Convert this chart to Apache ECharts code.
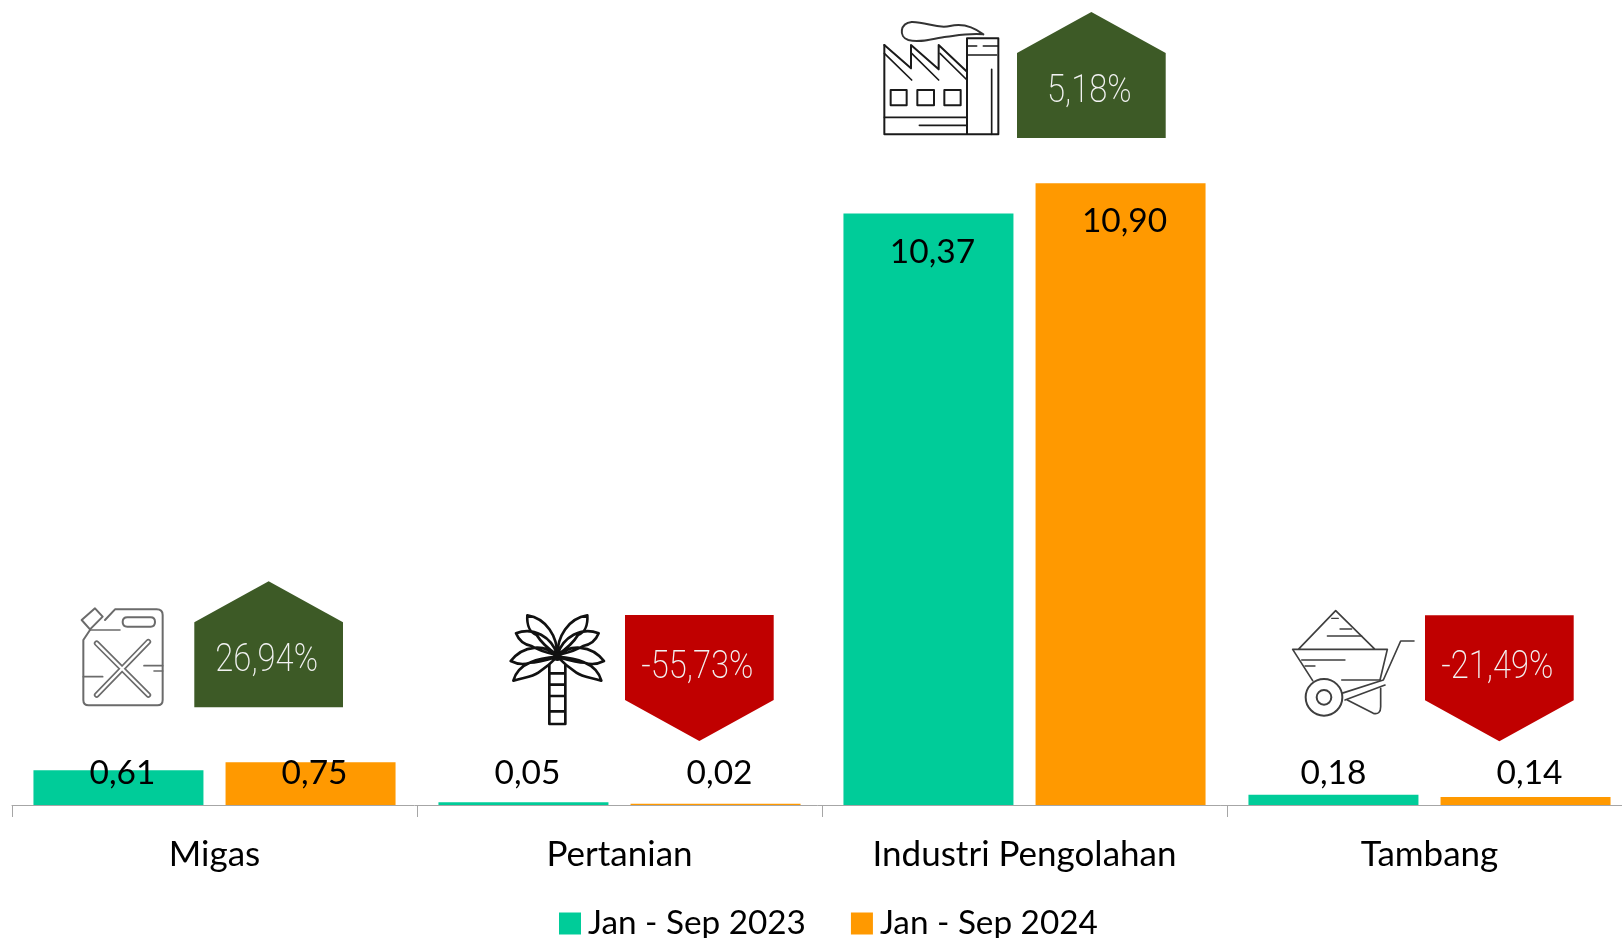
<!DOCTYPE html>
<html>
<head>
<meta charset="utf-8">
<style>
  html, body { margin: 0; padding: 0; background: #fff; overflow: hidden; }
  #main { width: 1622px; height: 938px; }
</style>
<script src="https://cdn.jsdelivr.net/npm/echarts@6/dist/echarts.min.js"></script>
</head>
<body>
<div id="main"></div>
<script>
var categories = ['Migas', 'Pertanian', 'Industri Pengolahan', 'Tambang'];
var seriesNames = ['Jan - Sep 2023', 'Jan - Sep 2024'];
var values2023 = [0.61, 0.05, 10.37, 0.18];
var values2024 = [0.75, 0.02, 10.90, 0.14];
var sectorChange = [26.94, -55.73, 5.18, -21.49];

// label nudges from the default spot above each bar, px
var labelNudge2023 = [[4, 23], [4, -9], [4, 59], [0, -2]];
var labelNudge2024 = [[4, 31], [4, -11], [4, 58], [4, -4]];

// badge placement, px
var badgeLeft = [194.3, 625, 1017, 1425];
var badgeTop = [581.3, 615, 12, 615.3];
var badgeW = 148.7, badgeH = 126, badgeTip = 41;

var TEAL = '#00CC99', ORANGE = '#FF9900', GREEN = '#3D5A26', RED = '#C00000';
var FONT = 'Lato, "Noto Sans", sans-serif';

function comma(v, d) { return v.toFixed(d).replace('.', ','); }

function barData(values, nudge) {
  return values.map(function (v, i) {
    return { value: v, label: { offset: nudge[i] } };
  });
}

function strokePath(d, color, lw, fill) {
  return { type: 'path', shape: { pathData: d },
    style: { stroke: color, lineWidth: lw, fill: fill || 'none', lineJoin: 'round', lineCap: 'round' } };
}

// icons are written in 3x pixels, then scaled down by the group
function iconGroup(x, y, children) {
  return { type: 'group', x: x, y: y, scaleX: 1 / 3, scaleY: 1 / 3, children: children };
}

function jerrycan() {
  var c = '#6b6b6b';
  return iconGroup(0, 560, [
    strokePath('M270 210 L250 240 V420 Q250 436 266 436 H472 Q488 436 488 420 V165 Q488 148 470 148 H345 L315 180', c, 6),
    strokePath('M245 180 L285 145 L308 170 L270 208 Z', c, 6),
    strokePath('M382 172 H452 Q465 172 465 186 Q465 200 452 200 H382 Q368 200 368 186 Q368 172 382 172 Z', c, 6),
    strokePath('M290 250 L445 405 M445 245 L290 405', c, 17),
    strokePath('M290 250 L445 405 M445 245 L290 405', '#ffffff', 7),
    strokePath('M250 350 H308 M432 317 H488 M462 333 H488 M270 210 H360', c, 5)
  ]);
}

function palm() {
  var c = '#111111';
  var leaves = 'M232 195 C232 140 200 85 142 76 C140 105 150 128 170 135 C185 160 210 180 232 195 Z' +
    'M232 195 C215 140 160 110 108 130 C118 155 135 165 155 168 C180 185 210 190 232 195 Z' +
    'M232 200 C195 160 130 165 92 213 C110 222 130 225 150 218 C175 218 205 208 232 200 Z' +
    'M232 200 C180 205 115 215 100 272 C130 262 155 262 175 248 C195 235 215 218 232 200 Z';
  return iconGroup(480, 590, [
    strokePath(leaves, c, 8),
    { type: 'group', x: 464, scaleX: -1, children: [strokePath(leaves, c, 8)] },
    { type: 'circle', shape: { cx: 232, cy: 200, r: 13 }, style: { fill: c } },
    strokePath('M208 225 V402 H256 V225 M208 250 H256 M208 284 H256 M208 318 H256 M208 364 H256', c, 8)
  ]);
}

function factory() {
  var c = '#1a1a1a';
  return iconGroup(840, 0, [
    strokePath('M430 103 C400 80 370 68 330 78 C290 88 260 65 215 66 C180 70 175 110 205 120 C240 130 280 115 320 110 C360 105 385 100 430 103', '#333333', 6),
    strokePath('M133 135 V403 H475 V115 H381 V403', c, 6),
    strokePath('M133 135 L213 205 V135 L296 208 V135 L381 215', c, 6),
    strokePath('M133 160 L215 240 M215 160 L296 240 M300 160 L381 240', c, 5),
    strokePath('M152 270 H200 V316 H152 Z M232 270 H282 V316 H232 Z M313 270 H362 V316 H313 Z', c, 6),
    strokePath('M133 352 H381 M238 376 H381 M381 138 H410 M430 138 H475 M381 165 H470 M455 208 V403', c, 5)
  ]);
}

function wheelbarrow() {
  var c = '#3f3f3f';
  var wheel = function (r) {
    return { type: 'circle', shape: { cx: 162, cy: 322, r: r }, style: { stroke: c, lineWidth: 6, fill: '#fff' } };
  };
  return iconGroup(1270, 590, [
    strokePath('M68 178 H352 L330 270 M68 178 L128 272 M85 178 L197 62 L315 178', c, 5),
    strokePath('M185 85 H205 M210 117 H245 M172 138 H275 M95 210 H225 M105 228 H135 M215 270 H330', c, 4),
    strokePath('M215 310 L340 270 L392 153 H432 M225 330 L345 285', c, 5),
    strokePath('M232 330 L310 370 Q332 375 332 350 V295', c, 5),
    wheel(55), wheel(22)
  ]);
}

var icons = [jerrycan, palm, factory, wheelbarrow];

function badgePoints(i, up) {
  var l = badgeLeft[i], t = badgeTop[i], r = l + badgeW, m = l + badgeW / 2, b = t + badgeH;
  if (up) return [[m, t], [r, t + badgeTip], [r, b], [l, b], [l, t + badgeTip]];
  return [[l, t], [r, t], [r, b - badgeTip], [m, b], [l, b - badgeTip]];
}

function renderBadge(params, api) {
  var i = api.value(0), change = api.value(2), up = change > 0;
  var cx = badgeLeft[i] + badgeW / 2 - 2;
  var cy = up ? badgeTop[i] + 80 : badgeTop[i] + 53;
  return {
    type: 'group',
    children: [
      icons[i](),
      { type: 'polygon', shape: { points: badgePoints(i, up) }, style: { fill: up ? GREEN : RED } },
      { type: 'text', x: cx, y: cy, scaleX: 0.84,
        style: { text: comma(change, 2) + '%', fill: '#f2f2f2', fontFamily: 'Roboto, sans-serif',
          fontWeight: 200, fontSize: 39, align: 'center', verticalAlign: 'middle' } }
    ]
  };
}

var labelBase = {
  show: true, position: 'top', distance: 0, color: '#000', fontFamily: FONT, fontSize: 33.5, lineHeight: 40,
  formatter: function (p) { return comma(p.value, 2); }
};

var chart = echarts.init(document.getElementById('main'));
chart.setOption({
  animation: false,
  grid: { left: 12, top: 6.3, width: 1620, height: 798.7, containLabel: false, outerBoundsMode: 'none' },
  legend: {
    data: seriesNames, left: 554, top: 902, icon: 'rect', itemWidth: 22, itemHeight: 22, itemGap: 45,
    textStyle: { color: '#000', fontFamily: FONT, fontSize: 33.3, padding: [0, 0, 0, 2] }
  },
  xAxis: {
    type: 'category', data: categories,
    axisLine: { lineStyle: { color: '#A6A6A6', width: 1 } },
    axisTick: { show: true, length: 12, lineStyle: { color: '#A6A6A6', width: 1 } },
    axisLabel: { color: '#000', fontFamily: FONT, fontSize: 35, margin: 32, interval: 0 }
  },
  yAxis: { type: 'value', min: 0, max: 14, show: false },
  series: [
    { name: seriesNames[0], type: 'bar', barWidth: 170, barGap: '13%', itemStyle: { color: TEAL },
      label: labelBase, data: barData(values2023, labelNudge2023), z: 2 },
    { name: seriesNames[1], type: 'bar', barWidth: 170, barGap: '13%', itemStyle: { color: ORANGE },
      label: labelBase, data: barData(values2024, labelNudge2024), z: 2 },
    { type: 'custom', silent: true, clip: false, renderItem: renderBadge, z: 3,
      encode: { x: 0, y: 1 },
      data: categories.map(function (c, i) { return [i, 0, sectorChange[i]]; }) }
  ]
});
</script>
</body>
</html>
